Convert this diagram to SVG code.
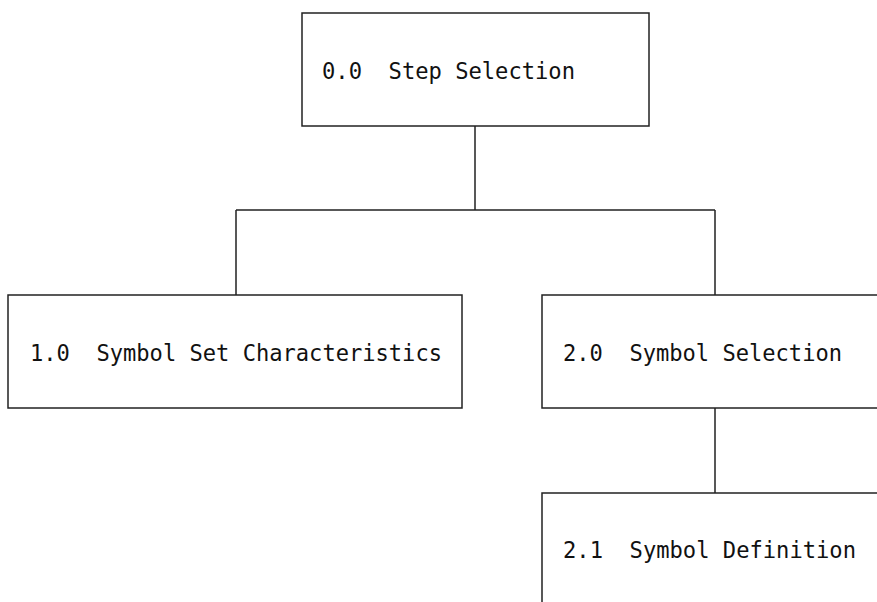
<svg xmlns="http://www.w3.org/2000/svg" width="877" height="602" viewBox="0 0 877 602">
<style>
.box{fill:#fff;stroke:#222;stroke-width:1.5}
.lbl{font-family:"DejaVu Sans Mono","Liberation Mono",monospace;font-size:23.5px;fill:#111;white-space:pre}
.conn{fill:none;stroke:#222;stroke-width:1.5}
</style>
<rect width="877" height="602" fill="#fff"/>
<g id="connectors">
<path class="conn" d="M475,126 V210 M236,210 H715 M236,210 V295 M715,210 V295 M715,408 V493"/>
</g>
<g id="n0">
<rect class="box" x="302" y="13" width="347" height="113"/>
<text class="lbl" x="322" y="79" textLength="253" lengthAdjust="spacingAndGlyphs" xml:space="preserve">0.0  Step Selection</text>
</g>
<g id="n1">
<rect class="box" x="8" y="295" width="454" height="113"/>
<text class="lbl" x="30" y="361" textLength="412" lengthAdjust="spacingAndGlyphs" xml:space="preserve">1.0  Symbol Set Characteristics</text>
</g>
<g id="n2">
<rect class="box" x="542" y="295" width="345" height="113"/>
<text class="lbl" x="563" y="361" textLength="279" lengthAdjust="spacingAndGlyphs" xml:space="preserve">2.0  Symbol Selection</text>
</g>
<g id="n21">
<rect class="box" x="542" y="493" width="345" height="120"/>
<text class="lbl" x="563" y="558" textLength="293" lengthAdjust="spacingAndGlyphs" xml:space="preserve">2.1  Symbol Definition</text>
</g>
</svg>
